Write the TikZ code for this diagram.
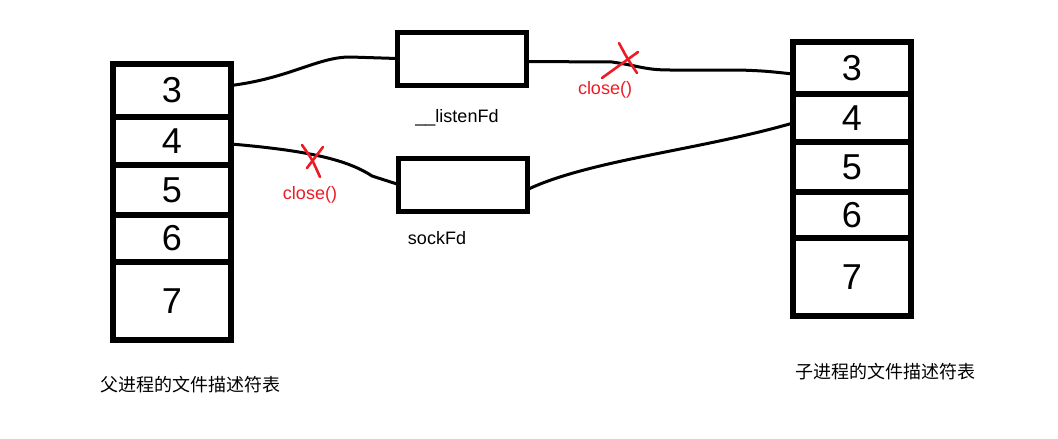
\documentclass[tikz,border=0pt]{standalone}
\usepackage{fontspec}
\setmainfont{Liberation Sans}
\newfontfamily\cjk{Noto Sans CJK SC}
\usetikzlibrary{positioning}
\definecolor{penred}{RGB}{237,28,36}

\tikzset{
  cell/.style={draw, line width=6pt, outer sep=0pt, inner sep=0pt,
    minimum width=118pt, font=\fontsize{36}{36}\selectfont},
  fdbox/.style={draw, line width=5pt, outer sep=0pt, minimum width=129pt, minimum height=53pt},
  wire/.style={line width=3pt},
  cross/.style={penred, line width=2.6pt, line cap=round},
  tag/.style={font=\fontsize{18}{18}\selectfont},
  redtag/.style={tag, text=penred}
}

\begin{document}
\begin{tikzpicture}[x=1pt,y=-1pt]
\useasboundingbox (0,0) rectangle (1058,439);

% parent table
\node[cell, minimum height=53pt, anchor=north] (p3) at (172,64) {3};
\node[cell, minimum height=48pt, below=0pt of p3] (p4) {4};
\node[cell, minimum height=50pt, below=0pt of p4] (p5) {5};
\node[cell, minimum height=47pt, below=0pt of p5] (p6) {6};
\node[cell, minimum height=78pt, below=0pt of p6] (p7) {7};
\node[tag, font=\cjk\fontsize{18}{18}\selectfont] (ptitle) at (190,385) {父进程的文件描述符表};

% child table
\node[cell, minimum height=52pt, anchor=north] (c3) at (852,42) {3};
\node[cell, minimum height=48pt, below=0pt of c3] (c4) {4};
\node[cell, minimum height=50pt, below=0pt of c4] (c5) {5};
\node[cell, minimum height=46pt, below=0pt of c5] (c6) {6};
\node[cell, minimum height=78pt, below=0pt of c6] (c7) {7};
\node[tag, font=\cjk\fontsize{18}{18}\selectfont] (ctitle) at (885,372) {子进程的文件描述符表};

% socket fds
\node[fdbox] (lbox) at (461.5,58.5) {};
\node[tag] (lname) at (457,118) {\_\_listenFd};
\node[fdbox] (sbox) at (463,184.5) {};
\node[tag] (sname) at (437,238) {sockFd};

% wires
\draw[wire] ([yshift=5pt]p3.east) .. controls (290,78) and (318,57) .. (350,57) -- (lbox.west);
\draw[wire] ([yshift=-3pt]p4.east) .. controls (300,150) and (345,158) .. (372,176) -- (sbox.west);
\draw[wire] ([yshift=-3pt]lbox.east) -- (612,62) .. controls (640,66) and (645,70) .. (670,70)
  -- (740,70) .. controls (765,71) .. ([yshift=-6pt]c3.west);
\draw[wire] ([yshift=-5pt]sbox.east) .. controls (590,160) and (700,150) .. ([yshift=-5pt]c4.west);

% close marks
\coordinate (cut1) at (625,63);
\draw[cross] ([shift={(-23,15)}]cut1) -- ([shift={(13,-11)}]cut1);
\draw[cross] ([shift={(-6,-20)}]cut1) .. controls ([shift={(2,-5)}]cut1) .. ([shift={(12,10)}]cut1);
\node[redtag] (cl1) at (605,90) {close()};

\coordinate (cut2) at (312,157);
\draw[cross] ([shift={(-10,-12)}]cut2) .. controls ([shift={(0,2)}]cut2) .. ([shift={(8,20)}]cut2);
\draw[cross] ([shift={(11,-10)}]cut2) -- ([shift={(-5,11)}]cut2);
\node[redtag] (cl2) at (310,195) {close()};
\end{tikzpicture}
\end{document}
